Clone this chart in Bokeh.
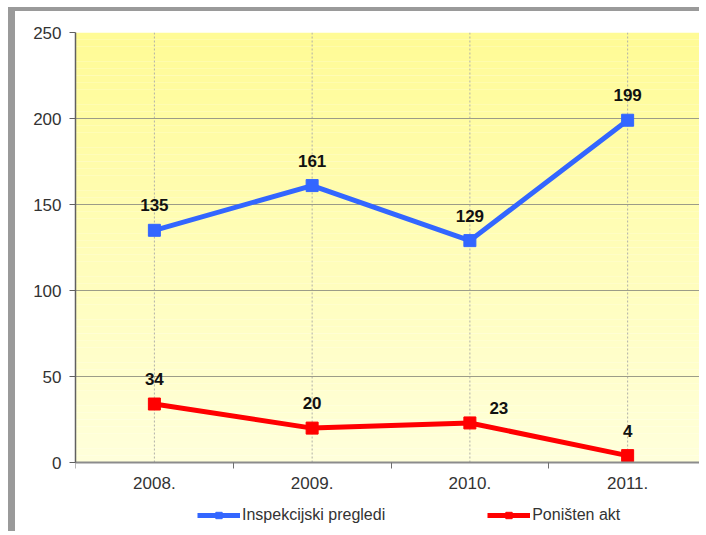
from bokeh.plotting import figure
from bokeh.models import (Range1d, FixedTicker, BoxAnnotation, Legend, LegendItem,
                          ColumnDataSource, LabelSet)
from bokeh.core.properties import value
from bokeh.embed import file_html
from bokeh.resources import INLINE

# ---- data ----
years = ["2008.", "2009.", "2010.", "2011."]
inspekcijski = [135, 161, 129, 199]
ponisten = [34, 20, 23, 4]
y_ticks = [0, 50, 100, 150, 200, 250]
series_names = ["Inspekcijski pregledi", "Poništen akt"]

# label offsets (style)
insp_dx = [0, 0, 0, 0]
insp_dy = [25, 25, 25, 25]
pon_dx = [0, 0, 29, 0]
pon_dy = [25, 25, 15, 25]

FONT = "Liberation Sans"
BLUE = "#3366ff"
RED = "#ff0000"

x = [i + 0.5 for i in range(len(years))]
ymin, ymax = y_ticks[0], y_ticks[-1]

# layout (pixels)
W, H = 691, 524
FR_LEFT, FR_TOP = 60, 21
PLOT_H = 430                      # pixels for 0..250
px_per_unit = PLOT_H / (ymax - ymin)
extra_below = (H - FR_TOP - PLOT_H) / px_per_unit

p = figure(width=W, height=H, output_backend="svg", toolbar_location=None,
           x_range=Range1d(0, len(years)),
           y_range=Range1d(ymin - extra_below, ymax),
           min_border_left=FR_LEFT, min_border_right=0, min_border_top=FR_TOP,
           min_border_bottom=0)
p.styles = {"border-left": "7px solid #9a9a9a", "border-top": "4px solid #9a9a9a",
            "margin-left": "8px", "margin-top": "7px"}
p.background_fill_color = "white"
p.border_fill_color = "white"
p.outline_line_color = None

# gradient background over the value area (style only)
n = 60
top_c = (255, 251, 150)
bot_c = (255, 255, 218)
for i in range(n):
    t = i / (n - 1)
    c = tuple(int(round(bot_c[k] + (top_c[k] - bot_c[k]) * t)) for k in range(3))
    b0 = ymin + (ymax - ymin) * i / n
    b1 = ymin + (ymax - ymin) * (i + 1) / n
    p.add_layout(BoxAnnotation(bottom=b0, top=b1, fill_color="#%02x%02x%02x" % c,
                               fill_alpha=1, line_color=None, level="image"))

# axes
p.xaxis.fixed_location = ymin
p.xaxis.ticker = FixedTicker(ticks=x, minor_ticks=list(range(len(years) + 1)))
p.xaxis.major_label_overrides = {xi: yr for xi, yr in zip(x, years)}
p.xaxis.major_tick_line_color = None
p.xaxis.major_tick_out = 0
p.xaxis.major_tick_in = 0
p.xaxis.minor_tick_in = 0
p.xaxis.minor_tick_out = 6
p.xaxis.minor_tick_line_color = "#707070"
p.xaxis.minor_tick_line_width = 1
p.xaxis.axis_line_color = "#8c8c8c"
p.xaxis.axis_line_width = 2
p.xaxis.major_label_standoff = 8

p.yaxis.ticker = FixedTicker(ticks=y_ticks, minor_ticks=[])
p.yaxis.bounds = (ymin, ymax)
p.yaxis.major_tick_in = 0
p.yaxis.major_tick_out = 6
p.yaxis.major_tick_line_color = "#606060"
p.yaxis.axis_line_color = "#606060"
p.yaxis.axis_line_width = 1.5
p.yaxis.major_label_standoff = 8

for ax in (p.xaxis, p.yaxis):
    ax.major_label_text_font = FONT
    ax.major_label_text_font_size = "17px"
    ax.major_label_text_color = "#333333"

p.ygrid.grid_line_color = "#9c9c88"
p.ygrid.grid_line_width = 1
p.ygrid.bounds = (ymin, ymax)
p.xgrid.visible = False
# vertical dotted guides at category centres, only across the value area
p.segment(x0=x, y0=[ymin] * len(x), x1=x, y1=[ymax] * len(x),
          line_color="#b0b0a8", line_dash="2 2", line_width=1, level="underlay")

# series
src1 = ColumnDataSource(dict(x=x, y=inspekcijski, t=[str(v) for v in inspekcijski],
                             dx=insp_dx, dy=insp_dy))
src2 = ColumnDataSource(dict(x=x, y=ponisten, t=[str(v) for v in ponisten],
                             dx=pon_dx, dy=pon_dy))

l1 = p.line("x", "y", source=src1, line_color=BLUE, line_width=5)
sm1 = p.scatter("x", "y", source=src1, marker="square", size=7, color=BLUE)  # legend marker
s1 = p.scatter("x", "y", source=src1, marker="square", size=12, color=BLUE)
l2 = p.line("x", "y", source=src2, line_color=RED, line_width=5)
sm2 = p.scatter("x", "y", source=src2, marker="square", size=7, color=RED)   # legend marker
s2 = p.scatter("x", "y", source=src2, marker="square", size=12, color=RED)

for src in (src1, src2):
    p.add_layout(LabelSet(x="x", y="y", text="t", source=src, x_offset="dx", y_offset="dy",
                          text_align="center", text_baseline="middle",
                          text_font=value(FONT), text_font_size="17px",
                          text_font_style="bold", text_color="#111111"))

legend = Legend(items=[LegendItem(label=series_names[0], renderers=[l1, sm1]),
                       LegendItem(label=series_names[1], renderers=[l2, sm2])],
                orientation="horizontal", location=(122, 11), padding=0, margin=0,
                spacing=102, glyph_width=43, glyph_height=16, label_height=16,
                label_standoff=2,
                background_fill_alpha=0, border_line_color=None,
                label_text_font=FONT, label_text_font_size="16px",
                label_text_color="#333333")
p.add_layout(legend, "center")

open("out.html", "w").write(file_html(p, INLINE))
